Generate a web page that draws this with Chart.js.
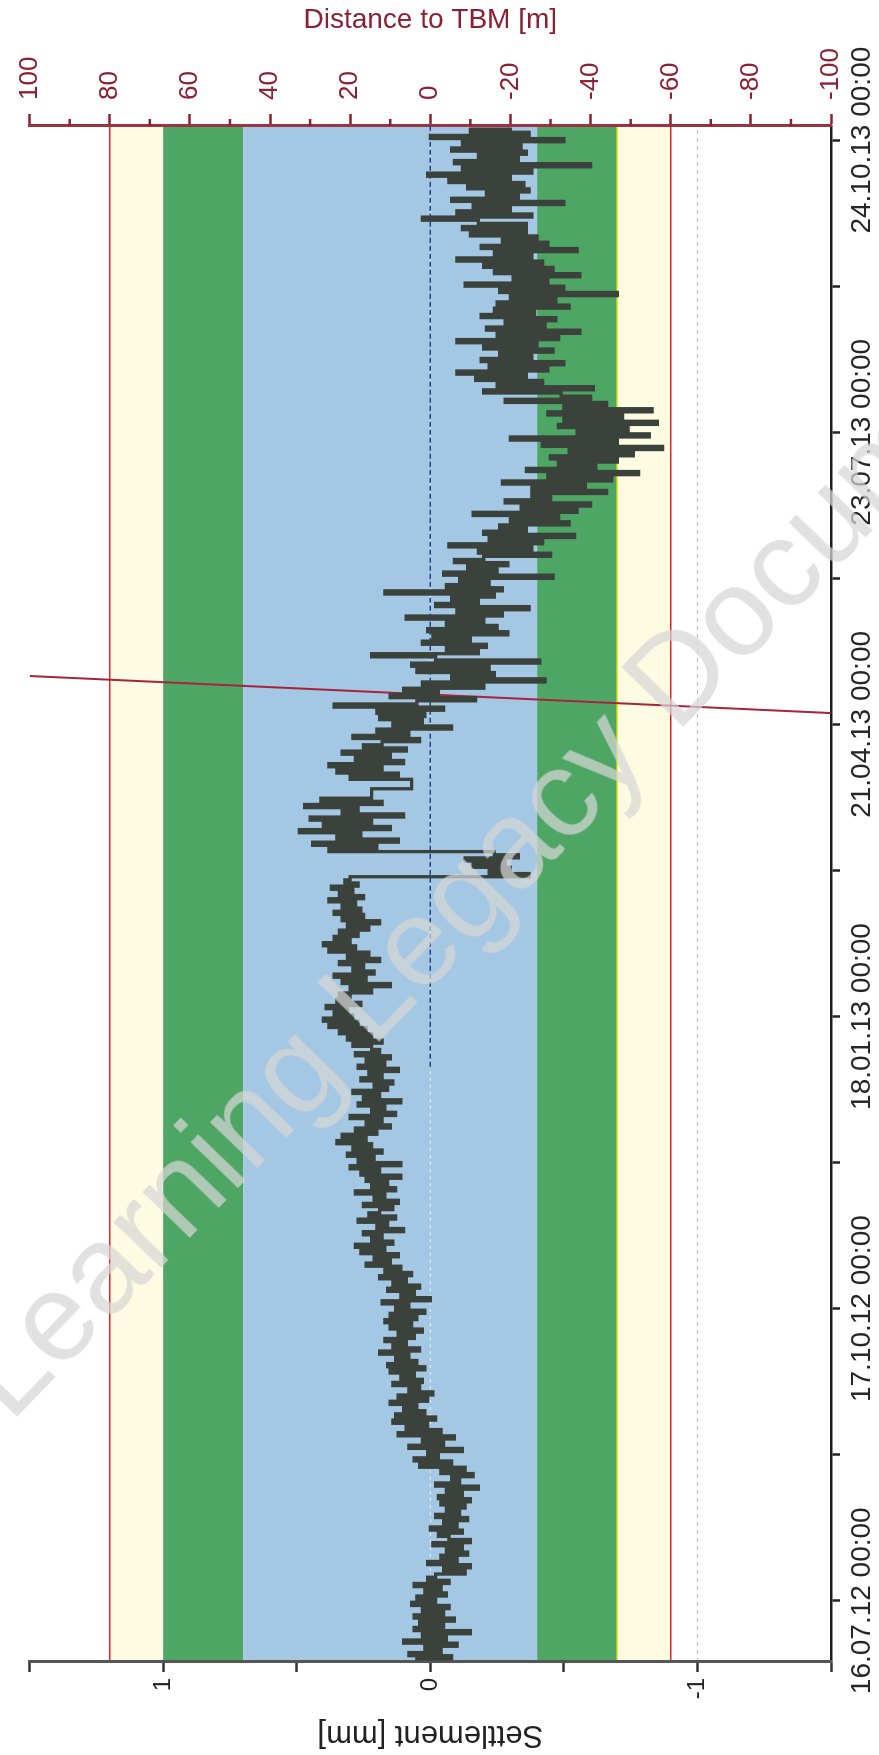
<!DOCTYPE html>
<html lang="en">
<head>
    <meta charset="UTF-8">
    <title>Settlement and Distance to TBM</title>
    <script src="https://cdn.jsdelivr.net/npm/chart.js"></script>
    <style>
        html, body {
            margin: 0;
            padding: 0;
            background: #fff;
        }
        body {
            position: relative;
            width: 879px;
            height: 1755px;
            overflow: hidden;
        }
        /* chart is drawn landscape and turned a quarter turn to the left */
        #settlementChart {
            position: absolute;
            left: 0;
            top: 0;
            transform-origin: 0 0;
            transform: translateY(1755px) rotate(-90deg);
        }
        .watermark {
            position: absolute;
            left: 10px;
            top: 1318px;
            font-family: 'Liberation Sans', Arial, sans-serif;
            font-size: 125px;
            line-height: 125px;
            white-space: nowrap;
            color: rgba(214, 214, 214, 0.72);
            transform-origin: 0 106px;
            transform: rotate(-46deg);
            pointer-events: none;
        }
    </style>
</head>
<body>

    <canvas id="settlementChart" width="1755" height="879"></canvas>
    <div class="watermark">Learning Legacy Document</div>

    <script>
        // days counted from 16.07.12 00:00
        const majorTickDays = [0, 93, 186, 279, 372, 465];
        const dateLabels = ["16.07.12 00:00", "17.10.12 00:00", "18.01.13 00:00",
                            "21.04.13 00:00", "23.07.13 00:00", "24.10.13 00:00"];

        // settlement [mm], one reading per day starting at day -19 (null = no data)
        const settlementStartDay = -19;
        const settlement = [
            0.05, -0.08, 0.08, -0.04, 0.02, -0.10, 0.10, -0.06, 0.03, -0.15, 0.06, -0.05, 0.04, -0.09,
            0.06, -0.05, 0.03, -0.07, 0.07, -0.02, 0.05, -0.06, 0.02, -0.04, 0.06, -0.07, 0.01,
            -0.02, -0.13, -0.05, -0.15, 0.01, -0.10, -0.04, -0.14, -0.06, -0.12, -0.01, -0.15, -0.07,
            -0.03, -0.12, 0.00, -0.10, -0.05, -0.14, -0.02, -0.11, -0.06, -0.13, -0.04,
            -0.15, -0.03, -0.12, -0.06, -0.18, -0.02, -0.11, -0.08, -0.16, -0.04, -0.13,
            0.04, -0.08, 0.06, -0.03, 0.01, -0.12, 0.08, -0.05, 0.03, -0.09,
            0.12, -0.04, 0.09, 0.01, 0.14, -0.02,
            0.13, 0.02, 0.10, 0.05, 0.15, 0.01, 0.12, -0.01, 0.08, 0.04, 0.14, 0.03, 0.11, 0.06, 0.15, 0.02,
            0.16, 0.05, 0.13, 0.08, 0.19, 0.04, 0.14, 0.09, 0.17, 0.06, 0.12, 0.03, 0.15, 0.07, 0.17,
            0.05, 0.15, 0.02, 0.13, 0.08, 0.18, 0.00, 0.11, 0.06, 0.16, 0.04, 0.14, 0.09, 0.19, 0.07, 0.17, 0.11,
            0.24, 0.15, 0.21, 0.12, 0.26, 0.17, 0.28, 0.14, 0.22, 0.18, 0.25, 0.10, 0.20, 0.16, 0.27, 0.13, 0.23, 0.19,
            0.14, 0.25, 0.12, 0.21, 0.17, 0.28, 0.13, 0.22, 0.16, 0.24, 0.11, 0.26,
            0.19, 0.30, 0.11, 0.27, 0.21, 0.31, 0.18, 0.29,
            0.22, 0.35, 0.24, 0.33, 0.20,
            0.28, 0.15, 0.24, 0.18, 0.30, 0.13, 0.22, 0.17, 0.27, 0.11, 0.25, 0.19, 0.29, 0.16,
            0.21, 0.14, 0.26, 0.18, 0.23, 0.12, 0.27, 0.17, 0.24, 0.15, 0.28, 0.19, 0.22,
            0.29, 0.18, 0.31, 0.22, 0.34, 0.24,
            0.38, 0.27, 0.40, 0.29, 0.36, 0.31, 0.39, 0.26, 0.35, 0.30,
            0.34, 0.22, 0.30, 0.15, 0.33, 0.24, 0.36, 0.21, 0.29, 0.25, 0.34, 0.19, 0.31, 0.23,
            0.38, 0.28, 0.40, 0.30, 0.36, 0.27,
            0.34, 0.23, 0.31, 0.19, 0.33, 0.25,
            0.36, 0.26, 0.33, 0.28, 0.38, 0.25, 0.34, 0.29, 0.37, 0.27, 0.32, 0.30,
            -0.37, -0.22, -0.30, -0.16, -0.28, -0.13, -0.33, -0.24,
            0.38, 0.20, 0.44, 0.12, 0.35, 0.26, 0.49, 0.15, 0.40, 0.22, 0.45, 0.10, 0.33, 0.27, 0.47, 0.18, 0.41, 0.22,
            null, null, null, null,
            0.07, 0.30, 0.12, 0.35, 0.18, 0.38, 0.10, 0.28, 0.15, 0.33, 0.09, 0.25,
            0.18, 0.04, 0.29, 0.08, 0.20, -0.08, 0.14, 0.03, 0.19,
            0.02, 0.20, -0.05, 0.36, 0.05, -0.17, 0.15, -0.03,
            0.10, -0.20, 0.03, -0.43, -0.08, -0.24, 0.05,
            -0.22, 0.07, -0.41, -0.02, 0.22, -0.18, -0.06,
            -0.21, 0.03, -0.15, -0.01, -0.29,
            0.01, -0.25, -0.06, -0.20, 0.09, -0.27, -0.10, -0.37, -0.02, -0.18, -0.08, -0.24, 0.17,
            -0.27, -0.06, -0.22, -0.11, -0.46, -0.05, -0.25, -0.14, -0.29, -0.09, -0.20,
            -0.45, -0.18, -0.38, -0.07, -0.42, -0.22, -0.54, -0.20, -0.36, -0.26,
            -0.52, -0.30, -0.48, -0.16, -0.55, -0.34, -0.60, -0.28, -0.45, -0.38,
            -0.66, -0.38, -0.58, -0.27, -0.68, -0.44, -0.78, -0.36, -0.62, -0.48, -0.70,
            -0.45, -0.76, -0.52, -0.87, -0.42, -0.70, -0.30, -0.82, -0.55, -0.74, -0.48, -0.85, -0.50,
            -0.72, -0.44, -0.83, -0.50, -0.66, -0.28, -0.60,
            -0.49, -0.20, -0.61, -0.25,
            -0.42, -0.17, -0.36, -0.10, -0.44, -0.22, -0.50, -0.19, -0.38, -0.26,
            -0.46, -0.20, -0.40, -0.10, -0.48, -0.25, -0.56, -0.21, -0.43, -0.28, -0.47, -0.19, -0.39, -0.24, -0.52,
            -0.25, -0.47, -0.30, -0.70, -0.26, -0.50, -0.13, -0.44, -0.31, -0.56, -0.24, -0.46,
            -0.20, -0.42, -0.10, -0.38, -0.24, -0.55, -0.19, -0.44, -0.27, -0.40, -0.15, -0.36,
            -0.12, -0.36, -0.18, 0.03, -0.38, -0.10, -0.30, -0.16, -0.50, -0.08, -0.33, -0.21, -0.37, -0.14,
            -0.35, -0.07, -0.30, 0.01, -0.38, -0.12, -0.60, -0.09, -0.33, -0.18, -0.36,
            -0.08, -0.34, -0.12, -0.50, 0.00, -0.37, -0.15, -0.30
        ];

        // TBM passing: distance to TBM [m] against day
        const tbmDays = [282.6, 294.4];
        const tbmDistance = [-100, 100];

        // zero reference drawn from January 2013 on
        const zeroRefDays = [170, 469.5];
        const zeroRefValues = [0, 0];

        // trigger bands [mm], top to bottom
        const bandEdges = [1.2, 1.0, 0.7, -0.4, -0.7, -0.9];
        const bandColors = ["#fdfbe2", "#4ea665", "#a4c7e3", "#4ea665", "#fdfbe2"];
        const limitLines = [1.2, -0.9];

        const maroon = "#8c1f31";

        const bandPlugin = {
            id: "bands",
            beforeDraw(chart) {
                const { ctx, chartArea: a } = chart;
                const y = chart.scales.y;
                const hLine = (v, color, width, dash) => {
                    const p = y.getPixelForValue(v);
                    ctx.beginPath();
                    ctx.setLineDash(dash || []);
                    ctx.strokeStyle = color;
                    ctx.lineWidth = width;
                    ctx.moveTo(a.left, p);
                    ctx.lineTo(a.right, p);
                    ctx.stroke();
                };
                ctx.save();
                for (let i = 0; i < bandColors.length; i++) {
                    const p1 = y.getPixelForValue(bandEdges[i]);
                    const p2 = y.getPixelForValue(bandEdges[i + 1]);
                    ctx.fillStyle = bandColors[i];
                    ctx.fillRect(a.left, p1, a.right - a.left, p2 - p1);
                }
                hLine(-0.7, "#f2ef1c", 1.5);
                limitLines.forEach(v => hLine(v, "#e3242b", 1.6));
                hLine(-1, "#b9b9b9", 1, [4, 4]);
                hLine(0, "rgba(255,255,255,0.75)", 1, [3, 4]);
                ctx.restore();
            },
            afterDraw(chart) {
                // short ticks between the labelled distance ticks
                const { ctx, chartArea: a } = chart;
                const y2 = chart.scales.y2;
                ctx.save();
                ctx.strokeStyle = maroon;
                ctx.lineWidth = 2.5;
                for (let v = -90; v <= 90; v += 20) {
                    const p = y2.getPixelForValue(v);
                    ctx.beginPath();
                    ctx.moveTo(a.right, p);
                    ctx.lineTo(a.right + 7, p);
                    ctx.stroke();
                }
                ctx.restore();
            }
        };

        Chart.defaults.font.family = "'Liberation Sans', Arial, sans-serif";

        const ctx = document.getElementById("settlementChart").getContext("2d");
        new Chart(ctx, {
            type: "line",
            data: {
                datasets: [
                    {
                        label: "Settlement",
                        data: settlement.map((v, i) => ({ x: settlementStartDay + i, y: v })),
                        borderColor: "#3b413b",
                        borderWidth: 3.3,
                        stepped: "middle",
                        pointRadius: 0,
                        spanGaps: true,
                        yAxisID: "y"
                    },
                    {
                        label: "Distance to TBM",
                        data: tbmDays.map((d, i) => ({ x: d, y: tbmDistance[i] })),
                        borderColor: "#a8243b",
                        borderWidth: 2,
                        pointRadius: 0,
                        yAxisID: "y2"
                    },
                    {
                        label: "Zero",
                        data: zeroRefDays.map((d, i) => ({ x: d, y: zeroRefValues[i] })),
                        borderColor: "#1f3f8c",
                        borderWidth: 1.5,
                        borderDash: [5, 3],
                        pointRadius: 0,
                        yAxisID: "y"
                    }
                ]
            },
            options: {
                responsive: false,
                animation: false,
                layout: { padding: { top: 27, left: 0, right: 0, bottom: 0 } },
                plugins: {
                    legend: { display: false },
                    tooltip: { enabled: false }
                },
                scales: {
                    x: {
                        type: "linear",
                        position: "bottom",
                        min: -19.5,
                        max: 469.5,
                        afterBuildTicks: scale => {
                            const t = [];
                            majorTickDays.forEach((d, i) => {
                                t.push({ value: d });
                                if (i < majorTickDays.length - 1) t.push({ value: (d + majorTickDays[i + 1]) / 2 });
                            });
                            scale.ticks = t;
                        },
                        afterFit: scale => { scale.height = 48; },
                        ticks: {
                            autoSkip: false,
                            maxRotation: 0,
                            minRotation: 0,
                            padding: 5,
                            color: "#262626",
                            font: { size: 28 },
                            callback: v => {
                                const i = majorTickDays.indexOf(v);
                                return i >= 0 ? dateLabels[i] : "";
                            }
                        },
                        grid: { drawOnChartArea: false, tickLength: 9, tickWidth: 2.5, tickColor: "#222" },
                        border: { color: "#1e1e1e", width: 2.5 }
                    },
                    y: {
                        position: "left",
                        min: -1.5,
                        max: 1.5,
                        afterFit: scale => { scale.width = 93; },
                        ticks: {
                            stepSize: 0.5,
                            autoSkip: false,
                            padding: 6,
                            color: "#222",
                            font: { size: 24 },
                            callback: v => Number.isInteger(v) ? String(v) : ""
                        },
                        grid: { drawOnChartArea: false, tickLength: 10, tickWidth: 2.5, tickColor: "#333" },
                        border: { color: "#555", width: 3 },
                        title: {
                            display: true,
                            text: "Settlement [mm]",
                            color: "#222",
                            font: { size: 31 },
                            padding: { top: 2, bottom: 2 }
                        }
                    },
                    y2: {
                        position: "right",
                        min: -100,
                        max: 100,
                        afterFit: scale => { scale.width = 126; },
                        ticks: {
                            stepSize: 20,
                            autoSkip: false,
                            padding: 14,
                            color: maroon,
                            font: { size: 26 }
                        },
                        grid: { drawOnChartArea: false, tickLength: 12, tickWidth: 2.5, tickColor: maroon },
                        border: { color: "#9b3343", width: 3 },
                        title: {
                            display: true,
                            text: "Distance to TBM [m]",
                            color: maroon,
                            font: { size: 28 },
                            padding: { top: 3, bottom: 3 }
                        }
                    }
                }
            },
            plugins: [bandPlugin]
        });
    </script>

</body>
</html>
